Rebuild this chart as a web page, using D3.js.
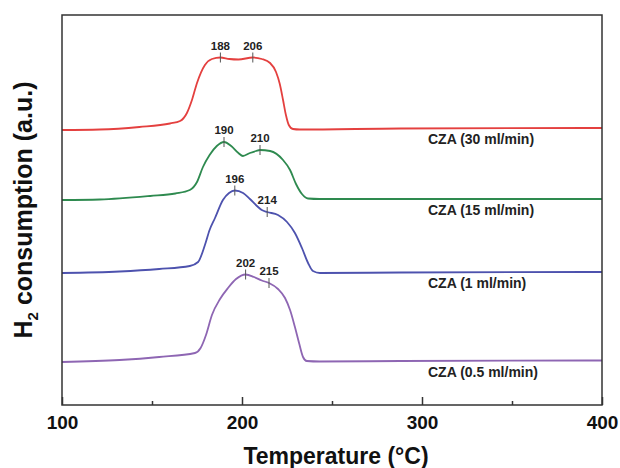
<!DOCTYPE html>
<html>
<head>
<meta charset="utf-8">
<script src="https://cdn.jsdelivr.net/npm/d3@7/dist/d3.min.js"></script>
<style>
  html, body { margin: 0; padding: 0; background: #fff; }
  svg { display: block; font-family: Arial, "Liberation Sans", sans-serif; }
</style>
</head>
<body>
<svg id="chart" width="620" height="468"></svg>
<script>
// TPR profiles of CZA catalysts, vertically offset (arbitrary units)
const temperature30 = [100,121,143,160,165.6,169.4,172.2,175,179.4,183.3,188,193,198,206,211,215.6,218.9,221,222.8,224.4,226,228.3,232,288,400];
const signal30      = [27.5,27.55,27.8,28.15,28.4,29.2,30.5,32.2,34.0,34.6,34.75,34.6,34.55,34.75,34.6,34.2,33.3,32.1,30.5,29.0,28.0,27.6,27.55,27.65,27.7];

const temperature15 = [100,121,149,163,171,175,178.3,182,186,190,194,198,200.5,204.4,207.8,210,215.6,222.8,226.7,230,233.3,236.7,243,288,400];
const signal15      = [20.5,20.55,20.9,21.15,21.5,22.3,23.8,25.0,25.9,26.3,25.9,25.2,24.9,25.2,25.4,25.5,25.4,24.5,23.5,22.1,21.1,20.65,20.6,20.6,20.6];

const temperature1  = [100,132,154,171,175.6,179.4,182,185,189.4,192.8,196,200.6,204.4,208.3,211,214,220,225,229.4,233.3,236.7,239.4,243.3,288,400];
const signal1       = [13.2,13.35,13.6,13.9,14.3,16.0,17.5,18.7,20.5,21.2,21.45,21.2,20.6,19.9,19.5,19.3,19.0,18.3,17.2,15.7,14.2,13.4,13.2,13.25,13.3];

const temperature05 = [100,132,154,173.9,177,180,183.3,187.8,192.2,196.7,202,206.7,211,215,220,223.9,226.7,229.4,231.7,233.9,236,243,288,400];
const signal05      = [4.3,4.5,4.8,5.2,5.7,7.0,9.0,10.6,11.7,12.6,13.05,12.8,12.45,12.2,11.6,10.7,9.5,7.8,6.2,4.8,4.4,4.35,4.4,4.45];

const sampleNames  = ["CZA (30 ml/min)", "CZA (15 ml/min)", "CZA (1 ml/min)", "CZA (0.5 ml/min)"];
const sampleColors = ["#e4403f", "#2e8a4f", "#4d52ae", "#8e66b3"];
const peakTemps    = [[188, 206], [190, 210], [196, 214], [202, 215]];

const majorTicks = [100, 200, 300, 400];
const minorTicks = [150, 250, 350];

const series = [
  { t: temperature30, v: signal30 },
  { t: temperature15, v: signal15 },
  { t: temperature1,  v: signal1 },
  { t: temperature05, v: signal05 }
].map((s, i) => ({
  name: sampleNames[i],
  color: sampleColors[i],
  peaks: peakTemps[i],
  points: s.t.map((t, j) => ({ t, v: s.v[j] }))
}));

const svg = d3.select("#chart");
const margin = { left: 62, right: 18, top: 15, bottom: 63 };
const W = 620, H = 468;

const x = d3.scaleLinear().domain([100, 400]).range([margin.left, W - margin.right]);
const y = d3.scaleLinear().domain([0, 39]).range([H - margin.bottom, margin.top]);

const line = d3.line()
  .x(d => x(d.t))
  .y(d => y(d.v))
  .curve(d3.curveMonotoneX);

// value of a series at a given temperature (linear between read points)
function valueAt(points, t) {
  const i = d3.bisector(d => d.t).left(points, t);
  if (i <= 0) return points[0].v;
  if (i >= points.length) return points[points.length - 1].v;
  const a = points[i - 1], b = points[i];
  return a.v + (b.v - a.v) * (t - a.t) / (b.t - a.t);
}

// curves
const g = svg.append("g");
series.forEach(s => {
  g.append("path")
    .datum(s.points)
    .attr("fill", "none")
    .attr("stroke", s.color)
    .attr("stroke-width", 1.8)
    .attr("d", line);

  s.peaks.forEach(pt => {
    const px = x(pt), py = y(valueAt(s.points, pt));
    g.append("line")
      .attr("x1", px).attr("x2", px)
      .attr("y1", py - 5).attr("y2", py + 5)
      .attr("stroke", "#555").attr("stroke-width", 1);
    g.append("text")
      .attr("x", px).attr("y", py - 8)
      .attr("text-anchor", "middle")
      .attr("font-size", 11.5).attr("font-weight", "bold")
      .attr("fill", "#222")
      .text(pt);
  });

  const base = s.points[s.points.length - 1].v;
  g.append("text")
    .attr("x", 428)
    .attr("y", y(base) + 16)
    .attr("font-size", 14).attr("font-weight", "bold")
    .attr("fill", "#222")
    .text(s.name);
});

// frame
svg.append("rect")
  .attr("x", x(100)).attr("y", margin.top)
  .attr("width", x(400) - x(100))
  .attr("height", y(0) - margin.top)
  .attr("fill", "none")
  .attr("stroke", "#333")
  .attr("stroke-width", 1.5);

// bottom axis: major ticks with labels, minor ticks without
const axisMajor = d3.axisBottom(x).tickValues(majorTicks).tickSizeInner(-8).tickSizeOuter(0).tickPadding(11).tickFormat(d3.format("d"));
const axisMinor = d3.axisBottom(x).tickValues(minorTicks).tickSizeInner(-4).tickSizeOuter(0).tickFormat("");

const gMaj = svg.append("g").attr("transform", `translate(0,${y(0)})`).call(axisMajor);
const gMin = svg.append("g").attr("transform", `translate(0,${y(0)})`).call(axisMinor);
[gMaj, gMin].forEach(a => {
  a.select(".domain").remove();
  a.selectAll(".tick line").attr("stroke", "#333").attr("stroke-width", 1.5);
});
gMaj.selectAll(".tick text")
  .attr("font-size", 19).attr("font-weight", "bold")
  .attr("font-family", "Arial, 'Liberation Sans', sans-serif")
  .attr("fill", "#111");

// axis titles
svg.append("text")
  .attr("x", (x(100) + x(400)) / 2 + 4)
  .attr("y", 464)
  .attr("text-anchor", "middle")
  .attr("font-size", 23).attr("font-weight", "bold").attr("fill", "#111")
  .text("Temperature (°C)");

const yt = svg.append("text")
  .attr("transform", `translate(32,${(margin.top + y(0)) / 2}) rotate(-90)`)
  .attr("text-anchor", "middle")
  .attr("font-size", 25).attr("font-weight", "bold").attr("fill", "#111");
yt.append("tspan").text("H");
yt.append("tspan").attr("font-size", 15).attr("dy", 6).text("2");
yt.append("tspan").attr("dy", -6).text(" consumption (a.u.)");
</script>
</body>
</html>
